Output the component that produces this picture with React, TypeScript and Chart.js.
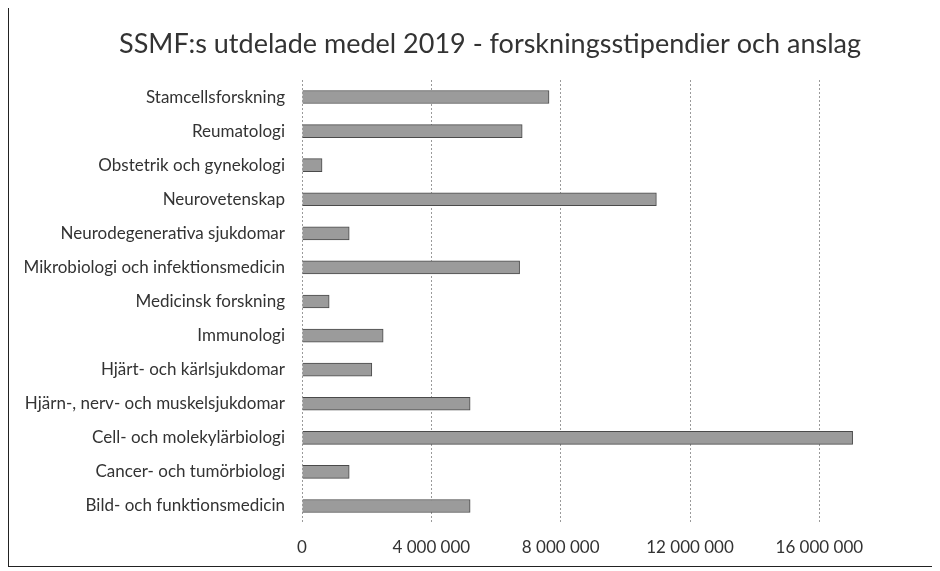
import React, { useEffect, useRef } from "react";
import { Chart, registerables } from "chart.js";

Chart.register(...registerables);

const TITLE = "SSMF:s utdelade medel 2019 - forskningsstipendier och anslag";

const categories = [
  "Stamcellsforskning",
  "Reumatologi",
  "Obstetrik och gynekologi",
  "Neurovetenskap",
  "Neurodegenerativa sjukdomar",
  "Mikrobiologi och infektionsmedicin",
  "Medicinsk forskning",
  "Immunologi",
  "Hjärt- och kärlsjukdomar",
  "Hjärn-, nerv- och muskelsjukdomar",
  "Cell- och molekylärbiologi",
  "Cancer- och tumörbiologi",
  "Bild- och funktionsmedicin",
];

const amounts = [
  7640000, 6810000, 620000, 10960000, 1460000, 6730000, 840000, 2510000,
  2160000, 5200000, 17030000, 1460000, 5200000,
];

const tickValues = [0, 4000000, 8000000, 12000000, 16000000];
const axisMax = 18000000;

const FONT = "Lato, 'Open Sans', sans-serif";

function fmt(v: number): string {
  return String(Math.round(v)).replace(/\B(?=(\d{3})+(?!\d))/g, " ");
}

const titlePlugin = {
  id: "offsetTitle",
  afterDraw(chart: any) {
    const ctx = chart.ctx;
    ctx.save();
    ctx.fillStyle = "#333";
    ctx.font = `normal 27px ${FONT}`;
    ctx.textAlign = "center";
    ctx.textBaseline = "middle";
    ctx.fillText(TITLE, 481, 38);
    ctx.restore();
  },
};

export default function App() {
  const ref = useRef<HTMLCanvasElement | null>(null);

  useEffect(() => {
    if (!ref.current) return;
    const chart = new Chart(ref.current, {
      type: "bar",
      data: {
        labels: categories,
        datasets: [
          {
            data: amounts,
            backgroundColor: "#9b9b9b",
            borderColor: "#4a4a4a",
            borderWidth: 1,
            barThickness: 13,
          },
        ],
      },
      plugins: [titlePlugin],
      options: {
        indexAxis: "y",
        animation: false,
        responsive: false,
        maintainAspectRatio: false,
        layout: { padding: { left: 0, right: 50, top: 74, bottom: 1 } },
        plugins: {
          legend: { display: false },
          tooltip: { enabled: false },
          title: { display: false },
        },
        scales: {
          x: {
            type: "linear",
            min: 0,
            max: axisMax,
            afterBuildTicks: (axis: any) => {
              axis.ticks = tickValues.map((v) => ({ value: v }));
            },
            afterFit: (axis: any) => {
              axis.height = 42;
            },
            ticks: {
              color: "#333",
              font: { family: FONT, size: 17, lineHeight: 1 },
              padding: 16,
              maxRotation: 0,
              callback: (v: any) => fmt(Number(v)),
            },
            grid: {
              color: "#9a9a9a",
              lineWidth: 1,
              drawTicks: false,
            },
            border: { display: false, dash: [2, 2] },
          },
          y: {
            grid: { display: false, drawTicks: false },
            border: { display: false },
            afterFit: (axis: any) => {
              axis.width = 293;
            },
            ticks: {
              color: "#333",
              font: { family: FONT, size: 17 },
              padding: 17,
            },
          },
        },
      },
    } as any);
    return () => chart.destroy();
  }, []);

  return (
    <div
      style={{
        width: 925,
        height: 560,
        border: "1.5px solid #222",
        marginTop: -3,
        boxSizing: "content-box",
        background: "#fff",
      }}
    >
      <canvas ref={ref} width={925} height={560} style={{ display: "block" }} />
    </div>
  );
}
